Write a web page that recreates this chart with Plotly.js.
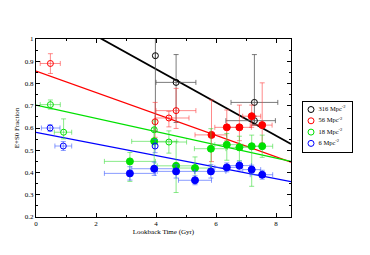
<!DOCTYPE html>
<html><head><meta charset="utf-8">
<script src="https://cdn.plot.ly/plotly-3.0.1.min.js"></script>
<style>body{margin:0;background:#fff}#c{width:370px;height:255px}</style>
</head><body><div id="c"></div>
<script>
// Legend labels
const groups = ["316 Mpc<sup>-2</sup>", "56 Mpc<sup>-2</sup>", "18 Mpc<sup>-2</sup>", "6 Mpc<sup>-2</sup>"];
const colors = ["#000000", "#ff0000", "#00e000", "#0000ff"];
const errColors = ["rgba(90,90,90,0.8)", "rgba(255,60,60,0.6)", "rgba(60,220,60,0.6)", "rgba(60,90,255,0.6)"];

// Fit lines: intercept and slope
const fitIntercept = [1.164, 0.856, 0.703, 0.58];
const fitSlope = [-0.0748, -0.0482, -0.0298, -0.026];

// 316 Mpc^-2 (open)
const bOx = [3.98, 4.67, 7.28, 7.28];
const bOy = [0.925, 0.805, 0.715, 0.633];
const bOeyp = [0.2, 0.125, 0.215, 0.02];
const bOeym = [0.34, 0.18, 0.10, 0.02];
const bOexp = [0, 0.66, 0.78, 0.7];
const bOexm = [0, 0.67, 0.78, 0.95];

// 56 Mpc^-2 open / filled
const rOx = [0.48, 3.97, 4.43, 4.67];
const rOy = [0.89, 0.628, 0.645, 0.678];
const rOeyp = [0.044, 0.087, 0.03, 0.10];
const rOeym = [0.045, 0.07, 0.04, 0.08];
const rOexp = [0.33, 0.0, 0.67, 0.66];
const rOexm = [0.34, 0.0, 0.46, 0.67];
const rFx = [5.85, 6.36, 6.78, 7.19, 7.54];
const rFy = [0.569, 0.603, 0.603, 0.653, 0.613];
const rFeyp = [0.157, 0.078, 0.1, 0.05, 0.19];
const rFeym = [0.12, 0.06, 0.06, 0.05, 0.08];
const rFexp = [0.5, 0.4, 0.4, 0.3, 0.33];
const rFexm = [0.55, 0.4, 0.4, 0.3, 0.4];

// 18 Mpc^-2 open / filled
const gOx = [0.48, 0.92, 3.94, 4.43];
const gOy = [0.705, 0.581, 0.592, 0.537];
const gOeyp = [0.021, 0.06, 0.04, 0.05];
const gOeym = [0.02, 0.03, 0.05, 0.05];
const gOexp = [0.33, 0.27, 0.0, 0.59];
const gOexm = [0.34, 0.31, 0.0, 0.52];
const gFx = [3.13, 3.94, 4.67, 5.3, 5.83, 6.36, 6.78, 7.19, 7.54];
const gFy = [0.45, 0.54, 0.43, 0.42, 0.507, 0.525, 0.513, 0.518, 0.518];
const gFeyp = [0.04, 0.06, 0.11, 0.05, 0.09, 0.05, 0.05, 0.05, 0.05];
const gFeym = [0.09, 0.11, 0.12, 0.05, 0.09, 0.07, 0.06, 0.18, 0.05];
const gFexp = [0.85, 0.75, 0.63, 0.55, 0.5, 0.4, 0.4, 0.3, 0.35];
const gFexm = [0.85, 0.75, 0.63, 0.55, 0.55, 0.4, 0.4, 0.3, 0.4];

// 6 Mpc^-2 open / filled
const uOx = [0.47, 0.91, 3.97];
const uOy = [0.6, 0.519, 0.519];
const uOeyp = [0.015, 0.02, 0.03];
const uOeym = [0.015, 0.02, 0.03];
const uOexp = [0.33, 0.28, 0.0];
const uOexm = [0.29, 0.28, 0.0];
const uFx = [3.13, 3.94, 4.67, 5.3, 5.83, 6.36, 6.78, 7.19, 7.54];
const uFy = [0.396, 0.417, 0.405, 0.365, 0.405, 0.423, 0.431, 0.413, 0.39];
const uFeyp = [0.03, 0.03, 0.03, 0.02, 0.03, 0.02, 0.02, 0.02, 0.02];
const uFeym = [0.03, 0.03, 0.03, 0.02, 0.03, 0.02, 0.02, 0.02, 0.02];
const uFexp = [0.85, 0.75, 0.63, 0.55, 0.5, 0.4, 0.4, 0.3, 0.35];
const uFexm = [0.85, 0.75, 0.63, 0.55, 0.55, 0.4, 0.4, 0.3, 0.4];

const xMin = 0, xMax = 8.5;
const W = 370, H = 255, mL = 36, mR = 10, mT = 39, mB = 38;
const pw = W - mL - mR, ph = H - mT - mB;
const plotRight = 291;
const legL = 303, legR = 352, legT = 102, legB = 152;
const lineWidths = [1.8, 1.3, 1.3, 1.3];

const traces = [];
for (let i = 0; i < 4; i++) {
  traces.push({x: [xMin, xMax], y: [fitIntercept[i] + fitSlope[i]*xMin, fitIntercept[i] + fitSlope[i]*xMax],
    mode: 'lines', line: {color: colors[i], width: lineWidths[i]}, showlegend: false, hoverinfo: 'skip'});
}
function pts(i, x, y, eyp, eym, exp, exm, filled) {
  traces.push({x: x, y: y, mode: 'markers', showlegend: false,
    marker: {symbol: filled ? 'circle' : 'circle-open', size: filled ? 7 : 6, color: colors[i], line: {width: 1, color: colors[i]}},
    error_y: {type: 'data', symmetric: false, array: eyp, arrayminus: eym, color: errColors[i], thickness: 1, width: 2.5},
    error_x: {type: 'data', symmetric: false, array: exp, arrayminus: exm, color: errColors[i], thickness: 1, width: 2.5}});
}
pts(0, bOx, bOy, bOeyp, bOeym, bOexp, bOexm, false);
pts(1, rOx, rOy, rOeyp, rOeym, rOexp, rOexm, false);
pts(1, rFx, rFy, rFeyp, rFeym, rFexp, rFexm, true);
pts(2, gOx, gOy, gOeyp, gOeym, gOexp, gOexm, false);
pts(2, gFx, gFy, gFeyp, gFeym, gFexp, gFexm, true);
pts(3, uOx, uOy, uOeyp, uOeym, uOexp, uOexm, false);
pts(3, uFx, uFy, uFeyp, uFeym, uFexp, uFexm, true);

// custom legend on an overlay axis (units = pixels inside the box)
const legW = legR - legL, legH = legB - legT;
const legY = groups.map((g, i) => legH - 7.5 - 11.3 * i);
traces.push({x: groups.map(() => 8), y: legY, xaxis: 'x2', yaxis: 'y2', mode: 'markers', showlegend: false,
  marker: {symbol: 'circle-open', size: 6, color: colors, line: {width: 1, color: colors}}});
traces.push({x: groups.map(() => 15.5), y: legY, xaxis: 'x2', yaxis: 'y2', mode: 'text', text: groups,
  textposition: 'middle right', showlegend: false,
  textfont: {family: 'Liberation Serif, Times New Roman, serif', size: 6.5, color: '#000'}});

const font = {family: 'Liberation Serif, Times New Roman, serif', size: 7, color: '#000'};
const layout = {
  width: W, height: H,
  margin: {l: mL, r: mR, t: mT, b: mB},
  paper_bgcolor: '#fff', plot_bgcolor: 'rgba(0,0,0,0)',
  font: font,
  showlegend: false,
  xaxis: {domain: [0, (plotRight - mL) / pw], range: [xMin, xMax], tickmode: 'linear', tick0: 0, dtick: 2, ticks: 'inside', ticklen: 4, tickcolor: '#000',
    showline: true, linecolor: '#000', linewidth: 1, mirror: 'ticks', showgrid: false, zeroline: false,
    minor: {dtick: 1, ticks: 'inside', ticklen: 2, tickcolor: '#000'},
    title: {text: 'Lookback Time (Gyr)', font: {family: font.family, size: 7}, standoff: 0}},
  yaxis: {range: [0.2, 1.0], tickmode: 'linear', tick0: 0.2, dtick: 0.1, ticks: 'inside', ticklen: 4, tickcolor: '#000',
    showline: true, linecolor: '#000', linewidth: 1, mirror: 'ticks', showgrid: false, zeroline: false,
    minor: {dtick: 0.05, ticks: 'inside', ticklen: 2, tickcolor: '#000'},
    title: {text: 'E+S0 Fraction', font: {family: font.family, size: 7}, standoff: 4}},
  xaxis2: {domain: [(legL - mL) / pw, (legR - mL) / pw], anchor: 'y2', range: [0, legW], showline: true, mirror: true,
    linecolor: '#000', linewidth: 1, showgrid: false, zeroline: false, showticklabels: false, ticks: ''},
  yaxis2: {domain: [(H - mB - legB) / ph, (H - mB - legT) / ph], anchor: 'x2', range: [0, legH], showline: true, mirror: true,
    linecolor: '#000', linewidth: 1, showgrid: false, zeroline: false, showticklabels: false, ticks: ''}
};
Plotly.newPlot('c', traces, layout, {displayModeBar: false, staticPlot: true});
</script></body></html>
